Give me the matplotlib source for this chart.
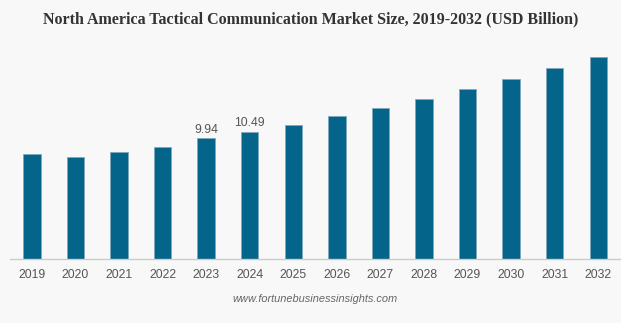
import matplotlib.pyplot as plt

years = ["2019", "2020", "2021", "2022", "2023", "2024", "2025",
         "2026", "2027", "2028", "2029", "2030", "2031", "2032"]
values = [8.63, 8.41, 8.79, 9.20, 9.94, 10.49, 11.06,
          11.75, 12.43, 13.17, 13.97, 14.81, 15.69, 16.65]
labeled = {"2023": "9.94", "2024": "10.49"}

bg = "#f8f8f8"
fig = plt.figure(figsize=(6.21, 3.23), dpi=100, facecolor=bg)
ax = fig.add_axes([10 / 621, (323 - 259.3) / 323, 610 / 621, (259.3 - 45) / 323])
ax.set_facecolor(bg)

x = list(range(len(years)))
ax.bar(x, values, width=0.4, color="#05648a", edgecolor="#7fa9bd", linewidth=0.6)

for i, y in enumerate(years):
    if y in labeled:
        ax.text(i, values[i] + 0.2, labeled[y], ha="center", va="bottom",
                fontsize=8.8, color="#555555", family="Liberation Sans")

ax.set_xlim(-0.5, len(years) - 0.5)
ax.set_ylim(0, (259.3 - 45) / 12.17)
ax.set_xticks(x)
ax.set_xticklabels(years, fontsize=8.8, color="#555555", family="Liberation Sans")
ax.tick_params(axis="x", length=0, pad=7)
ax.set_yticks([])
for s in ["top", "right", "left"]:
    ax.spines[s].set_visible(False)
ax.spines["bottom"].set_color("#cccccc")
ax.spines["bottom"].set_linewidth(1)

fig.text(0.5, 1 - 19 / 323, "North America Tactical Communication Market Size, 2019-2032 (USD Billion)",
         ha="center", va="center", fontsize=11.5, fontweight="bold",
         family="Liberation Serif", color="#333333")
fig.text(315 / 621, 1 - 299 / 323, "www.fortunebusinessinsights.com", ha="center", va="center",
         fontsize=7.9, style="italic", family="Liberation Sans", color="#666666")

fig.savefig("out.png", dpi=100, facecolor=bg)
